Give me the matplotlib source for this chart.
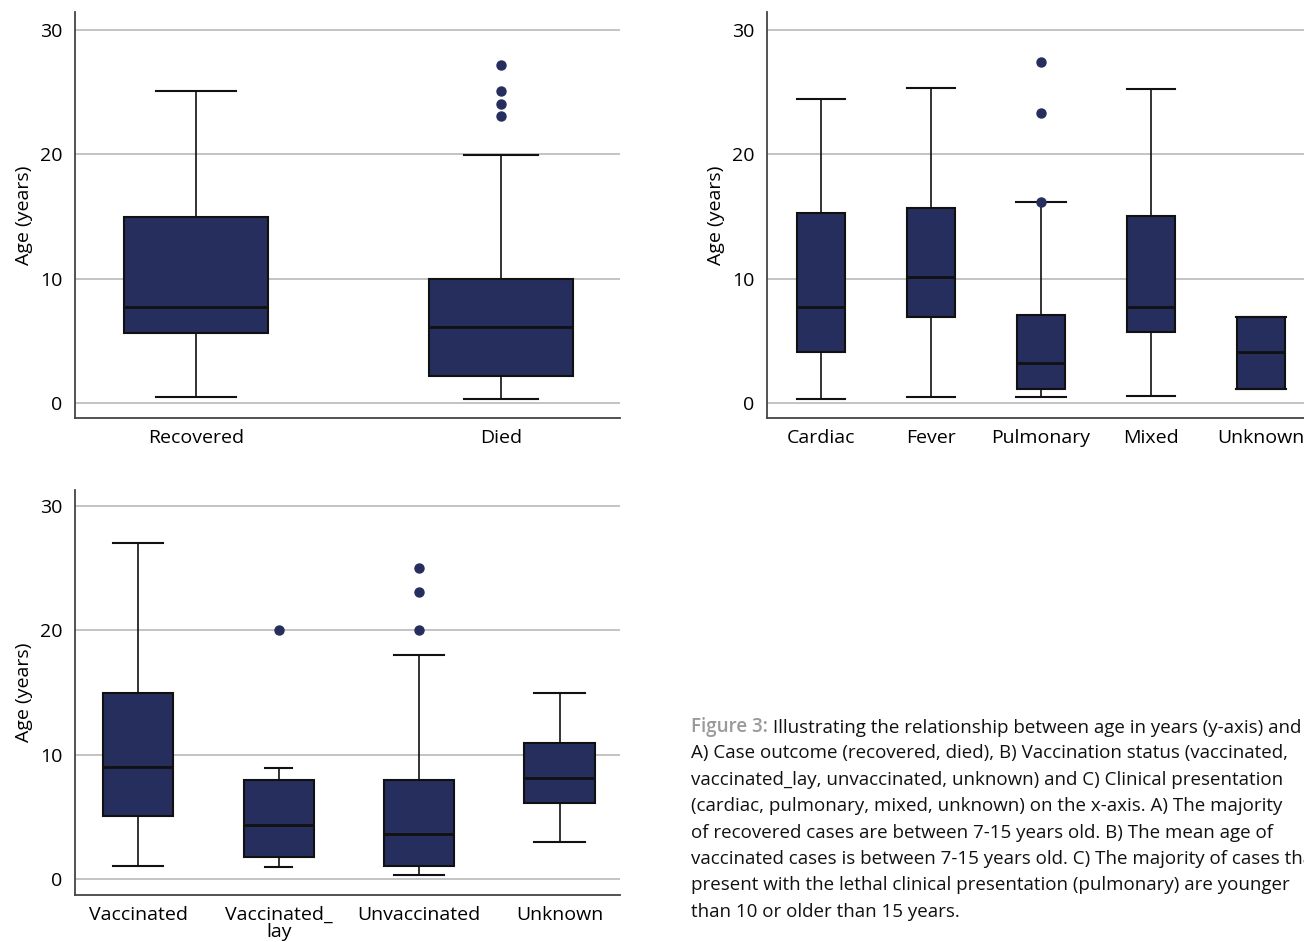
import matplotlib
matplotlib.use("Agg")
import matplotlib.pyplot as plt

# ---------------- data (ages in years) ----------------
outcome_labels = ["Recovered", "Died"]
outcome_whislo = [0.45, 0.3]
outcome_q1 = [5.6, 2.15]
outcome_med = [7.7, 6.1]
outcome_q3 = [14.95, 9.95]
outcome_whishi = [25.1, 19.95]
outcome_fliers = [[], [27.2, 25.1, 24.05, 23.1]]

clin_labels = ["Cardiac", "Fever", "Pulmonary", "Mixed", "Unknown"]
clin_whislo = [0.35, 0.5, 0.5, 0.55, 1.1]
clin_q1 = [4.1, 6.95, 1.1, 5.7, 1.1]
clin_med = [7.7, 10.15, 3.2, 7.7, 4.1]
clin_q3 = [15.25, 15.7, 7.1, 15.05, 6.95]
clin_whishi = [24.45, 25.3, 16.2, 25.25, 6.95]
clin_fliers = [[], [], [27.4, 23.3, 16.2], [], []]

vacc_labels = ["Vaccinated", "Vaccinated_\nlay", "Unvaccinated", "Unknown"]
vacc_whislo = [1.05, 0.95, 0.35, 3.0]
vacc_q1 = [5.1, 1.75, 1.05, 6.1]
vacc_med = [9.05, 4.35, 3.65, 8.15]
vacc_q3 = [15.0, 7.95, 7.95, 10.95]
vacc_whishi = [27.05, 8.95, 18.0, 14.95]
vacc_fliers = [[], [20.0], [25.05, 23.1, 20.0], []]

yticks = [0, 10, 20, 30]

NAVY = "#252e5d"
FONT = "Open Sans"
plt.rcParams["font.family"] = [FONT, "DejaVu Sans"]

fig = plt.figure(figsize=(13.04, 9.42), dpi=100)
W, H = 1304.0, 942.0


def add_axes(x0, x1, ytop, ybot):
    return fig.add_axes([x0 / W, 1 - ybot / H, (x1 - x0) / W, (ybot - ytop) / H])


def make_stats(labels, lo, q1, med, q3, hi, fl):
    return [dict(label=l, whislo=a, q1=b, med=c, q3=d, whishi=e, fliers=f)
            for l, a, b, c, d, e, f in zip(labels, lo, q1, med, q3, hi, fl)]


def draw(ax, stats, width, capw, xlim, ylim):
    pos = list(range(len(stats)))
    ax.bxp(stats, positions=pos, widths=width, patch_artist=True,
           capwidths=capw,
           boxprops=dict(facecolor=NAVY, edgecolor="#111111", linewidth=1.5),
           medianprops=dict(color="#111111", linewidth=2.0),
           whiskerprops=dict(color="#111111", linewidth=1.2),
           capprops=dict(color="#111111", linewidth=1.5),
           flierprops=dict(marker="o", markerfacecolor=NAVY, markeredgecolor=NAVY,
                           markersize=6.5, linestyle="none"))
    ax.set_xlim(*xlim)
    ax.set_ylim(*ylim)
    ax.set_yticks(yticks)
    ax.set_xticks(pos)
    ax.set_xticklabels([s["label"] for s in stats], fontsize=14, linespacing=0.95)
    ax.tick_params(axis="both", length=0, labelsize=14)
    ax.tick_params(axis="y", pad=9)
    ax.tick_params(axis="x", pad=8)
    ax.set_axisbelow(True)
    ax.yaxis.grid(True, color="#b9b9b9", linewidth=1.2)
    ax.xaxis.grid(False)
    for s in ["top", "right"]:
        ax.spines[s].set_visible(False)
    for s in ["left", "bottom"]:
        ax.spines[s].set_color("#444444")
        ax.spines[s].set_linewidth(1.3)
    ax.set_ylabel("Age (years)", fontsize=14, labelpad=5)


# A) outcome
ax1 = add_axes(75, 620, 12, 418)
draw(ax1, make_stats(outcome_labels, outcome_whislo, outcome_q1, outcome_med,
                     outcome_q3, outcome_whishi, outcome_fliers),
     0.47, [0.26, 0.24], (-0.397, 1.39), (-1.2, 31.45))

# C) clinical presentation
ax2 = add_axes(767, 1304, 12, 418)
draw(ax2, make_stats(clin_labels, clin_whislo, clin_q1, clin_med,
                     clin_q3, clin_whishi, clin_fliers),
     0.43, [0.44, 0.44, 0.46, 0.44, 0.45], (-0.49, 4.39), (-1.2, 31.45))

# B) vaccination status
ax3 = add_axes(75, 620, 490, 895)
draw(ax3, make_stats(vacc_labels, vacc_whislo, vacc_q1, vacc_med,
                     vacc_q3, vacc_whishi, vacc_fliers),
     0.5, [0.36, 0.19, 0.36, 0.36], (-0.45, 3.43), (-1.29, 31.3))

# caption
cap_first = " Illustrating the relationship between age in years (y-axis) and"
cap_lines = [
    "A) Case outcome (recovered, died), B) Vaccination status (vaccinated,",
    "vaccinated_lay, unvaccinated, unknown) and C) Clinical presentation",
    "(cardiac, pulmonary, mixed, unknown) on the x-axis. A) The majority",
    "of recovered cases are between 7-15 years old. B) The mean age of",
    "vaccinated cases is between 7-15 years old. C) The majority of cases that",
    "present with the lethal clinical presentation (pulmonary) are younger",
    "than 10 or older than 15 years.",
]
cx = 691 / W
fs = 13.5
y0 = 727
step = 26.4
t1 = fig.text(cx, 1 - y0 / H, "Figure 3:", fontsize=fs, color="#9a9a9a",
              fontweight="semibold", va="center", ha="left")
ax3.annotate(cap_first, xy=(1, 0), xycoords=t1, va="bottom", ha="left",
             fontsize=fs, color="#111111", annotation_clip=False)
for i, line in enumerate(cap_lines):
    fig.text(cx, 1 - (y0 + step * (i + 1)) / H, line, fontsize=fs,
             color="#111111", va="center", ha="left")

fig.savefig("out.png", dpi=100)
